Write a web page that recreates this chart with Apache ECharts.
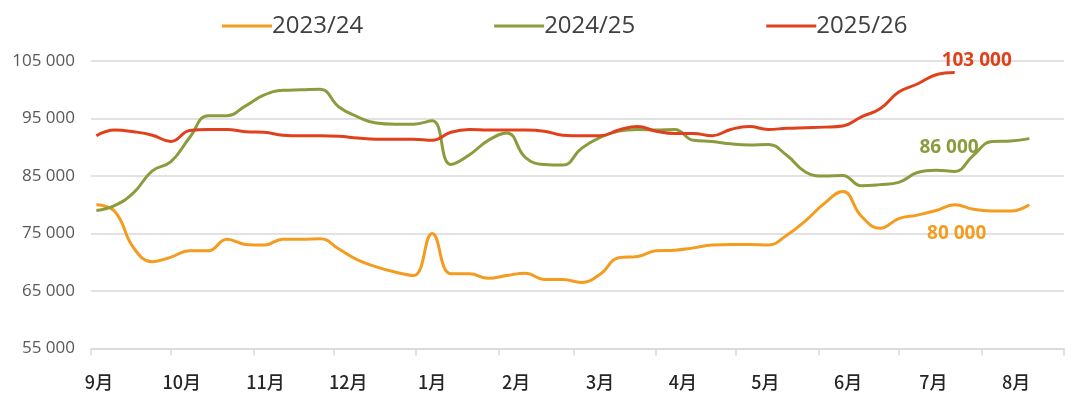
<!DOCTYPE html>
<html>
<head>
<meta charset="utf-8">
<script src="https://cdn.jsdelivr.net/npm/echarts@6/dist/echarts.min.js"></script>
<style>
  html, body { margin: 0; padding: 0; background: #fff; }
  #main { width: 1080px; height: 403px; }
</style>
</head>
<body>
<div id="main"></div>
<script>
    // weekly points, x = days from 1 Sept
    var firstDay = 2, stepDays = 7;
    var seriesNames = ['2023/24', '2024/25', '2025/26'];
    var colors = ['#F39C1F', '#8C9B3D', '#E0401C'];

    var v2023 = [80000, 78800, 72500, 70100, 70900, 72000, 72000, 74000, 73100, 73000,
                 74000, 74000, 74100, 72300, 70400, 69200, 68300, 67700, 75000, 68000,
                 68000, 67200, 67700, 68100, 67000, 67000, 66500, 67900, 70800, 71000,
                 72000, 72100, 72500, 73000, 73100, 73100, 73000, 74700, 77200, 80200,
                 82300, 78000, 75900, 77600, 78200, 79000, 80000, 79200, 78900, 78900, 80000];
    var v2024 = [79000, 79900, 82100, 85900, 87500, 91700, 95500, 95500, 97200, 99100,
                 99900, 100000, 100100, 97000, 95300, 94200, 94000, 94000, 94600, 87000,
                 88700, 91200, 92500, 88200, 87000, 86900, 89800, 91700, 92800, 93100,
                 93000, 93100, 91200, 91000, 90600, 90400, 90500, 88600, 85700, 85000,
                 85100, 83300, 83500, 83900, 85600, 86000, 85800, 88600, 91000, 91100, 91500];
    var v2025 = [92000, 93000, 92700, 92100, 91000, 92900, 93100, 93100, 92700, 92600,
                 92100, 92000, 92000, 91900, 91600, 91400, 91400, 91400, 91200, 92600,
                 93100, 93000, 93000, 93000, 92800, 92100, 92000, 92000, 93000, 93600,
                 92800, 92400, 92400, 92000, 93100, 93600, 93100, 93300, 93400, 93500,
                 93700, 95300, 96700, 99600, 101000, 102600, 103000];

    var months = ['9月', '10月', '11月', '12月', '1月', '2月', '3月', '4月', '5月', '6月', '7月', '8月'];
    var monthStarts = [0, 30, 61, 91, 122, 153, 181, 212, 242, 273, 303, 334, 365];
    var monthLabelDays = [3, 34, 65.5, 96.5, 128, 159.5, 191, 222, 253, 284, 316, 347];

    // which point carries the value label, and where the label sits
    var labelIdx = [46, 45, 46];
    var labelOffset = [[2, 29], [13, -23], [22, -12]];

    function fmt(v) {
        return String(v).replace(/\B(?=(\d{3})+(?!\d))/g, ' ');
    }

    function build(vals, s) {
        return vals.map(function (v, i) {
            var p = [firstDay + i * stepDays, v];
            if (i === labelIdx[s]) {
                return {
                    value: p,
                    label: {
                        show: true,
                        position: 'inside',
                        offset: labelOffset[s],
                        formatter: function (prm) { return fmt(prm.value[1]); },
                        color: colors[s],
                        fontFamily: 'Open Sans',
                        fontWeight: 'bold',
                        fontSize: 19
                    }
                };
            }
            return p;
        });
    }

    var allVals = [v2023, v2024, v2025];
    var series = allVals.map(function (vals, s) {
        return {
            name: seriesNames[s],
            type: 'line',
            smooth: 0.45,
            symbol: 'circle',
            symbolSize: 0,
            showSymbol: true,
            lineStyle: { width: 3, color: colors[s] },
            itemStyle: { color: colors[s] },
            label: { show: false },
            data: build(vals, s)
        };
    });

    var option = {
        animation: false,
        legend: {
            left: 217,
            top: 9,
            icon: 'rect',
            itemWidth: 50,
            itemHeight: 3,
            itemGap: 131,
            textStyle: {
                fontFamily: 'Open Sans',
                fontSize: 24,
                color: '#404040',
                padding: [0, 0, 0, -5]
            },
            data: seriesNames
        },
        grid: { left: 91, right: 16, top: 61, bottom: 54.5 },
        xAxis: {
            type: 'value',
            min: 0,
            max: 365,
            splitLine: { show: false },
            axisLine: { show: true, lineStyle: { color: '#D9D9D9', width: 1.5 } },
            axisTick: {
                show: true,
                customValues: monthStarts,
                length: 7,
                lineStyle: { color: '#D9D9D9', width: 1.5 }
            },
            axisLabel: {
                customValues: monthLabelDays,
                margin: 25,
                fontFamily: 'Noto Sans CJK SC',
                fontSize: 18,
                fontWeight: 500,
                color: '#262626',
                formatter: function (v) {
                    var i = monthLabelDays.indexOf(v);
                    return i >= 0 ? months[i] : '';
                }
            }
        },
        yAxis: {
            type: 'value',
            min: 55000,
            max: 105000,
            interval: 10000,
            axisLine: { show: false },
            axisTick: { show: false },
            splitLine: { lineStyle: { color: '#D9D9D9', width: 1.5 } },
            axisLabel: {
                margin: 16,
                fontFamily: 'Open Sans',
                fontSize: 17,
                color: '#595959',
                formatter: fmt
            }
        },
        series: series
    };

    echarts.init(document.getElementById('main')).setOption(option);
</script>
</body>
</html>
